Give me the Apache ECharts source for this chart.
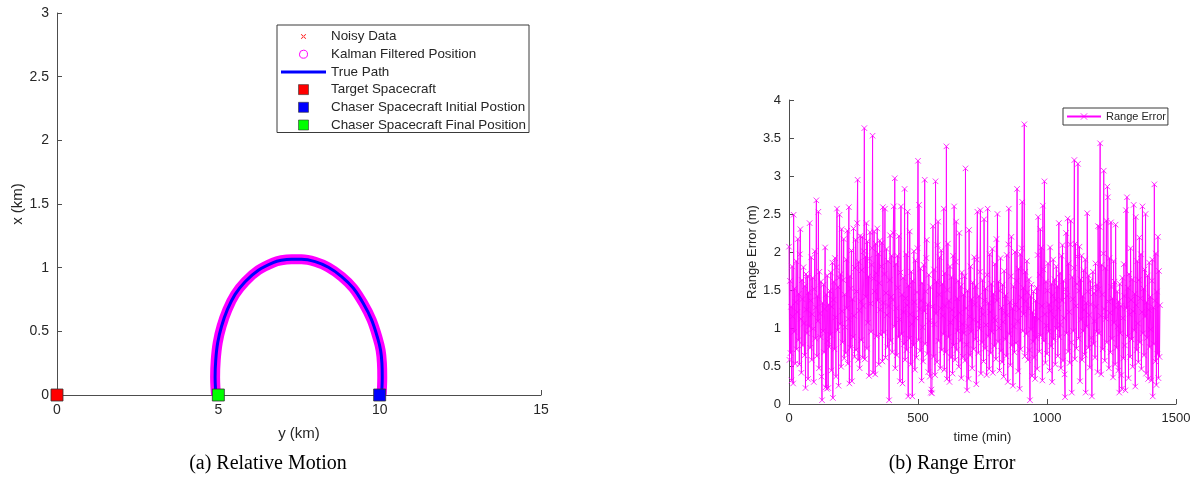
<!DOCTYPE html>
<html><head><meta charset="utf-8">
<script src="https://cdn.jsdelivr.net/npm/echarts@6/dist/echarts.min.js"></script>
<style>html,body{margin:0;padding:0;background:#fff}#c{width:1197px;height:480px}</style>
</head><body><div id="c"></div>
<script>
// ---- (a) Relative Motion : trajectory (y km horizontal, x km vertical)
const pathY = [10.06, 10.08, 10.07, 10.03, 9.94, 9.75, 9.49, 9.18, 8.82, 8.41, 8.00, 7.58, 7.27, 6.95, 6.70, 6.24, 5.83, 5.52, 5.28, 5.10, 4.98, 4.92, 4.90, 4.91, 4.93];
const pathX = [0.00, 0.14, 0.25, 0.35, 0.445, 0.59, 0.72, 0.84, 0.93, 1.003, 1.047, 1.066, 1.066, 1.058, 1.04, 0.98, 0.89, 0.79, 0.67, 0.54, 0.41, 0.275, 0.14, 0.06, 0.00];
const noisyY = [];
const noisyX = [];
const targetPos = [0, 0];
const chaserInitialPos = [10, 0];
const chaserFinalPos = [5, 0];
const legendNamesA = ['Noisy Data', 'Kalman Filtered Position', 'True Path', 'Target Spacecraft', 'Chaser Spacecraft Initial Postion', 'Chaser Spacecraft Final Position'];

// ---- (b) Range Error : values, one every 2 min
const SAMPLE_STEP_MIN = 2;
const rangeError = [
2.07,0.58,1.62,0.67,1.28,0.31,1.81,1.15,0.27,2.49,0.95,1.52,0.53,1.34,1.88,0.72,1.21,2.17,0.84,1.45,
0.52,1.97,2.30,1.12,0.41,1.63,1.38,0.77,1.80,1.06,0.64,1.55,0.21,1.71,1.24,0.93,1.68,0.33,1.47,1.02,
2.38,0.74,1.36,1.93,0.58,1.18,1.66,0.99,0.29,1.51,2.01,0.86,1.27,2.68,0.63,1.42,1.09,2.53,0.47,1.74,
1.19,0.88,1.61,0.36,0.05,1.33,0.96,1.57,0.68,1.25,2.06,0.22,1.44,0.20,1.69,0.83,0.21,1.31,0.75,1.49,
0.91,1.73,0.44,1.28,1.86,0.08,1.37,1.61,0.72,1.92,1.14,0.36,1.80,2.57,0.97,1.54,0.24,1.66,2.49,1.05,
1.71,0.49,2.30,1.22,0.81,1.63,2.17,0.60,1.44,1.01,0.67,1.90,1.26,2.28,0.53,1.12,2.59,0.27,1.68,0.74,
1.52,2.02,0.30,1.38,0.88,2.31,1.16,0.62,1.79,2.16,0.71,1.48,2.38,2.95,0.58,1.87,1.23,0.47,2.21,1.35,
0.84,1.76,2.20,0.61,1.29,2.01,3.63,0.59,1.94,1.41,2.38,0.73,2.14,1.07,1.68,0.37,1.91,2.26,1.32,0.95,
1.83,2.05,3.53,0.41,1.65,2.27,1.48,0.39,2.11,1.72,0.89,2.31,1.36,1.98,0.52,1.59,2.15,1.24,0.91,1.81,
2.12,0.56,2.59,1.33,0.94,1.71,2.57,0.61,1.46,2.04,1.17,0.75,1.88,1.29,0.05,1.63,2.22,0.83,1.41,1.95,
0.68,1.37,2.25,2.60,1.02,2.97,0.47,1.84,1.26,0.64,1.95,1.53,0.88,2.21,1.11,0.30,1.73,2.60,0.92,1.44,
0.27,1.66,1.21,0.79,2.83,0.58,1.39,1.97,0.71,1.30,2.53,0.10,1.56,0.86,2.27,1.18,0.52,1.74,1.05,0.10,
1.62,0.77,2.01,1.34,0.45,1.89,1.13,0.61,1.47,2.05,3.20,0.84,2.62,1.25,0.70,1.78,1.36,0.31,1.59,1.01,
0.56,1.83,1.22,2.95,0.79,1.48,1.92,2.16,0.66,1.31,0.42,1.70,1.09,0.36,1.54,0.15,0.19,0.14,1.28,2.34,
0.62,1.77,1.05,0.38,2.93,1.19,1.61,0.55,2.09,2.40,0.83,1.44,1.93,0.47,1.26,2.02,0.71,1.58,1.16,0.92,
2.57,0.45,1.72,1.29,0.68,3.39,0.33,1.50,2.11,0.88,1.36,0.29,1.81,1.07,0.61,1.67,1.24,0.40,1.95,0.77,
2.60,1.14,0.58,1.87,2.40,0.71,1.39,0.96,1.62,0.49,2.25,1.20,0.83,1.55,0.34,1.73,1.05,0.62,1.44,0.93,
1.68,0.57,3.10,1.26,0.78,0.18,1.49,1.02,0.33,2.29,1.15,0.64,1.81,0.95,1.38,0.47,1.60,1.11,0.72,1.93,
1.31,0.85,1.55,0.26,1.90,2.53,1.08,0.67,1.42,0.99,1.74,2.55,0.40,1.27,0.81,1.63,1.18,0.56,2.43,1.36,
0.73,1.52,1.04,0.38,1.70,2.57,0.89,1.33,0.46,1.97,1.21,0.67,1.58,0.95,2.04,0.41,1.45,1.13,0.76,1.84,
1.10,0.59,2.17,1.36,2.50,0.82,1.61,1.00,0.44,1.49,1.92,0.70,1.27,0.55,1.57,1.08,0.36,1.75,1.20,0.85,
1.43,0.63,1.96,1.17,0.29,2.10,2.57,0.92,1.34,0.51,1.68,2.20,0.77,1.26,0.24,1.55,1.02,0.68,2.00,1.31,
0.80,1.62,2.83,1.09,0.43,1.78,1.25,0.20,1.97,0.72,1.40,2.05,2.66,0.96,1.53,1.18,3.68,0.63,1.74,1.35,
0.92,1.88,1.47,0.58,1.26,1.64,0.71,0.05,1.42,0.98,1.57,0.37,1.21,0.82,1.48,0.61,1.15,0.33,1.36,0.87,
1.53,0.46,1.96,2.46,1.12,0.69,1.70,2.30,0.90,2.06,1.29,0.31,2.61,1.77,0.83,2.93,1.18,0.54,1.61,1.03,
0.66,1.49,1.85,0.95,1.31,0.44,2.06,1.22,0.76,1.58,0.29,1.43,1.90,0.85,1.14,1.64,0.52,1.37,1.81,0.99,
1.55,0.63,1.26,2.38,0.88,1.72,1.04,0.47,1.95,1.36,2.09,0.57,1.62,1.13,0.39,0.09,1.51,2.25,0.93,1.42,
2.44,0.69,1.85,1.21,0.54,2.10,2.41,0.81,0.15,1.67,1.38,0.96,1.79,3.21,0.59,2.11,1.29,0.73,1.58,1.94,
3.16,0.86,1.49,2.07,0.30,1.64,1.11,1.95,0.58,1.42,0.96,1.76,1.24,0.65,1.90,0.15,1.33,1.02,2.51,1.48,
0.74,1.69,1.17,0.48,1.62,1.31,0.87,0.10,1.53,1.74,0.79,1.46,1.09,0.61,1.85,1.28,0.95,1.57,0.42,2.34,
1.51,0.93,2.33,3.43,1.16,0.39,1.83,1.44,0.72,1.98,3.07,1.25,0.57,1.79,1.12,2.41,0.81,2.86,2.72,1.35,
0.47,1.92,1.20,0.68,2.39,1.54,0.86,1.39,0.35,1.88,1.07,1.61,0.52,2.36,1.27,0.74,1.48,1.02,0.44,1.35,
0.15,1.58,0.93,1.29,0.38,0.20,1.66,1.13,0.60,1.84,1.42,0.77,0.18,2.55,1.26,2.72,0.89,1.53,0.34,1.71,
1.18,0.62,2.05,1.37,0.85,1.64,0.49,1.22,2.62,0.97,1.45,0.23,2.46,1.30,0.71,1.88,1.06,0.55,1.63,2.19,
0.81,1.39,1.97,0.46,1.21,2.60,0.93,1.52,0.64,1.77,1.15,2.50,0.40,1.34,0.87,1.69,0.33,1.24,1.86,0.75,
1.41,0.98,0.31,1.62,1.90,0.10,1.27,0.79,2.89,1.36,0.56,1.98,0.25,1.48,0.66,2.20,0.34,1.75,0.62,1.30
];

const captionA = '(a) Relative Motion';
const captionB = '(b) Range Error';

const SANS = '"Liberation Sans", Arial, sans-serif';
const SERIF = '"Liberation Serif", "Times New Roman", serif';
const AX = '#4d4d4d';
const TXT = '#262626';

const pathData = pathY.map((v, i) => [v, pathX[i]]);
const noisyData = noisyY.map((v, i) => [v, noisyX[i]]);
const errData = rangeError.map((v, i) => [i * SAMPLE_STEP_MIN, v]);

const X_SYM = 'path://M0,0L10,10M10,0L0,10';
const X_ICON = 'path://M0,0M12,12M3.4,3.9L3.9,3.4L8.6,8.1L8.1,8.6ZM8.6,3.9L8.1,3.4L3.4,8.1L3.9,8.6Z';

function axisCommon(fs) {
  return {
    axisLine: { show: true, onZero: false, lineStyle: { color: AX, width: 1 } },
    axisTick: { show: true, inside: true, length: 5, lineStyle: { color: AX } },
    splitLine: { show: false },
    axisLabel: { color: TXT, fontFamily: SANS, fontSize: fs, formatter: v => String(v) },
    nameTextStyle: { color: TXT, fontFamily: SANS }
  };
}

const chart = echarts.init(document.getElementById('c'), null, { renderer: 'canvas' });
chart.setOption({
  animation: false,
  backgroundColor: '#fff',
  grid: [
    { left: 57, top: 13, width: 484, height: 382 },
    { left: 789, top: 100, width: 387, height: 304 }
  ],
  xAxis: [
    Object.assign(axisCommon(14), { type: 'value', gridIndex: 0, min: 0, max: 15, interval: 5,
      name: 'y (km)', nameLocation: 'middle', nameGap: 31,
      nameTextStyle: { color: TXT, fontFamily: SANS, fontSize: 15 } }),
    Object.assign(axisCommon(13), { type: 'value', gridIndex: 1, min: 0, max: 1500, interval: 500,
      name: 'time (min)', nameLocation: 'middle', nameGap: 27,
      nameTextStyle: { color: TXT, fontFamily: SANS, fontSize: 13 } })
  ],
  yAxis: [
    Object.assign(axisCommon(14), { type: 'value', gridIndex: 0, min: 0, max: 3, interval: 0.5,
      name: 'x (km)', nameLocation: 'middle', nameGap: 32,
      nameTextStyle: { color: TXT, fontFamily: SANS, fontSize: 15 } }),
    Object.assign(axisCommon(13), { type: 'value', gridIndex: 1, min: 0, max: 4, interval: 0.5,
      name: 'Range Error (m)', nameLocation: 'middle', nameGap: 26,
      nameTextStyle: { color: TXT, fontFamily: SANS, fontSize: 13 } })
  ],
  legend: [
    {
      orient: 'vertical', left: 277, top: 25,
      padding: [5, 3, 1, 4],
      itemWidth: 45, itemHeight: 12, itemGap: 4.7,
      borderColor: '#3a3a3a', borderWidth: 1, backgroundColor: '#fff',
      selectedMode: false,
      textStyle: { color: TXT, fontFamily: SANS, fontSize: 13.4, lineHeight: 13 },
      data: [
        { name: legendNamesA[0], icon: X_ICON,
          itemStyle: { color: '#ff0000', borderWidth: 0, opacity: 1 } },
        { name: legendNamesA[1], icon: 'path://M0,0M12,12M6,2A4,4,0,1,1,5.99,2Z',
          itemStyle: { color: 'rgba(0,0,0,0)', borderColor: '#ff00ff', borderWidth: 1, opacity: 1 } },
        { name: legendNamesA[2], icon: 'path://M0,0M0,12M0,4.5H45V7.5H0Z',
          itemStyle: { color: '#0000ff', borderWidth: 0, opacity: 1 } },
        { name: legendNamesA[3], icon: 'path://M0,0M12,12M1,1H11V11H1Z',
          itemStyle: { color: '#ff0000', borderColor: '#333', borderWidth: 0.6, opacity: 1 } },
        { name: legendNamesA[4], icon: 'path://M0,0M12,12M1,1H11V11H1Z',
          itemStyle: { color: '#0000ff', borderColor: '#333', borderWidth: 0.6, opacity: 1 } },
        { name: legendNamesA[5], icon: 'path://M0,0M12,12M1,1H11V11H1Z',
          itemStyle: { color: '#00ff00', borderColor: '#333', borderWidth: 0.6, opacity: 1 } }
      ]
    },
    {
      orient: 'vertical', left: 1063, top: 108,
      padding: [3, 2, 3, 3],
      itemWidth: 34, itemHeight: 8,
      borderColor: '#3a3a3a', borderWidth: 1, backgroundColor: '#fff',
      selectedMode: false,
      textStyle: { color: TXT, fontFamily: SANS, fontSize: 11 },
      data: [{ name: 'Range Error', itemStyle: { color: 'rgba(0,0,0,0)', borderColor: '#ff00ff', borderWidth: 0.8 } }]
    }
  ],
  series: [
    { name: legendNamesA[0], type: 'scatter', xAxisIndex: 0, yAxisIndex: 0, data: noisyData,
      symbol: X_SYM, symbolSize: 6, silent: true,
      itemStyle: { color: 'rgba(0,0,0,0)', borderColor: '#ff0000', borderWidth: 1, opacity: 1 } },
    { name: legendNamesA[1], type: 'line', xAxisIndex: 0, yAxisIndex: 0, data: pathData,
      smooth: 0.35, showSymbol: false, silent: true, z: 3,
      lineStyle: { color: '#ff00ff', width: 10, cap: 'butt' }, itemStyle: { color: '#ff00ff' } },
    { name: legendNamesA[2], type: 'line', xAxisIndex: 0, yAxisIndex: 0, data: pathData,
      smooth: 0.35, showSymbol: false, silent: true, z: 4,
      lineStyle: { color: '#0000ff', width: 3 }, itemStyle: { color: '#0000ff' } },
    { name: legendNamesA[3], type: 'scatter', xAxisIndex: 0, yAxisIndex: 0, data: [targetPos],
      symbol: 'rect', symbolSize: 12, z: 6, silent: true,
      itemStyle: { color: '#ff0000', borderColor: '#333', borderWidth: 0.8, opacity: 1 } },
    { name: legendNamesA[4], type: 'scatter', xAxisIndex: 0, yAxisIndex: 0, data: [chaserInitialPos],
      symbol: 'rect', symbolSize: 12, z: 6, silent: true,
      itemStyle: { color: '#0000ff', borderColor: '#333', borderWidth: 0.8, opacity: 1 } },
    { name: legendNamesA[5], type: 'scatter', xAxisIndex: 0, yAxisIndex: 0, data: [chaserFinalPos],
      symbol: 'rect', symbolSize: 12, z: 6, silent: true,
      itemStyle: { color: '#00ff00', borderColor: '#333', borderWidth: 0.8, opacity: 1 } },
    { name: 'Range Error', type: 'line', xAxisIndex: 1, yAxisIndex: 1, data: errData,
      showSymbol: true, showAllSymbol: true, symbol: X_SYM, symbolSize: 5.5, silent: true,
      lineStyle: { color: '#ff00ff', width: 0.9, opacity: 1 },
      itemStyle: { color: 'rgba(0,0,0,0)', borderColor: '#ff00ff', borderWidth: 0.8 } }
  ],
  graphic: [
    { type: 'text', x: 268, y: 464, silent: true,
      style: { text: captionA, font: '20px ' + SERIF, fill: '#000', textAlign: 'center', textVerticalAlign: 'middle' } },
    { type: 'text', x: 952, y: 464, silent: true,
      style: { text: captionB, font: '20px ' + SERIF, fill: '#000', textAlign: 'center', textVerticalAlign: 'middle' } }
  ]
});
</script>
</body></html>
